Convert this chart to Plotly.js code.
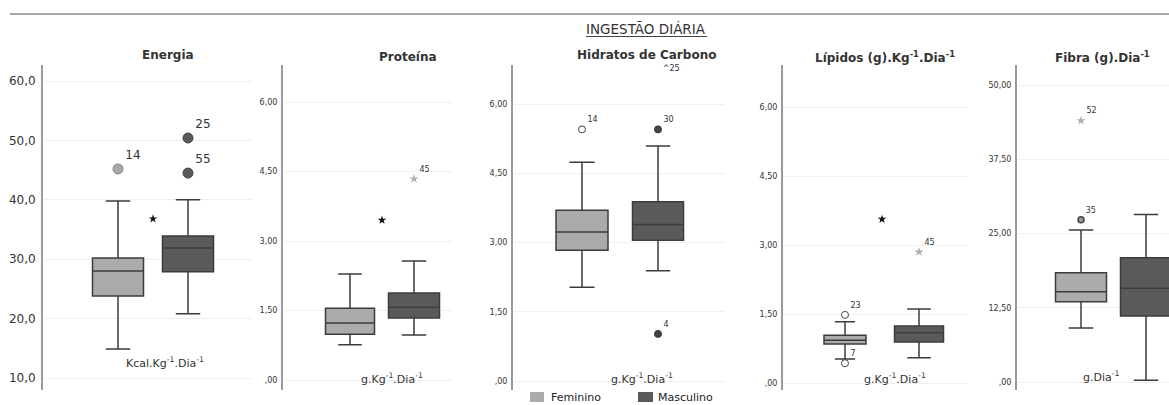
<!DOCTYPE html>
<html>
<head>
<meta charset="utf-8">
<script src="https://cdn.plot.ly/plotly-3.0.1.min.js"></script>
<style>html,body{margin:0;padding:0;background:#fff;}#chart{width:1169px;height:405px;}</style>
</head>
<body>
<div id="chart"></div>
<script>
// ---------------- DATA ----------------
const panelTitles = ['Energia', 'Proteína', 'Hidratos de Carbono', 'Lípidos (g).Kg<sup>-1</sup>.Dia<sup>-1</sup>', 'Fibra (g).Dia<sup>-1</sup>'];
const unitLabels = ['Kcal.Kg<sup>-1</sup>.Dia<sup>-1</sup>', 'g.Kg<sup>-1</sup>.Dia<sup>-1</sup>', 'g.Kg<sup>-1</sup>.Dia<sup>-1</sup>', 'g.Kg<sup>-1</sup>.Dia<sup>-1</sup>', 'g.Dia<sup>-1</sup>'];
const sexes = ['Feminino', 'Masculino'];

const femQ1  = [23.8, 0.99, 2.83, 0.85, 13.5];
const femMed = [28.0, 1.23, 3.23, 0.93, 15.2];
const femQ3  = [30.2, 1.55, 3.70, 1.04, 18.4];
const femLo  = [14.9, 0.76, 2.03, 0.52, 9.1];
const femHi  = [39.8, 2.29, 4.74, 1.33, 25.6];

const mascQ1  = [27.9, 1.34, 3.05, 0.89, 11.1];
const mascMed = [31.9, 1.57, 3.39, 1.09, 15.8];
const mascQ3  = [33.9, 1.88, 3.88, 1.24, 20.9];
const mascLo  = [20.8, 0.97, 2.39, 0.55, 0.3];
const mascHi  = [40.0, 2.57, 5.09, 1.61, 28.2];

// outliers: panel index, sex, value, case label, kind (o = outlier, * = extreme, ^ = off scale)
const outPanel = [0, 0, 0, 1, 2, 2, 2, 2, 3, 3, 3, 4, 4];
const outSex   = ['Feminino', 'Masculino', 'Masculino', 'Masculino', 'Feminino', 'Masculino', 'Masculino', 'Masculino', 'Feminino', 'Feminino', 'Masculino', 'Feminino', 'Feminino'];
const outValue = [45.2, 50.4, 44.5, 4.34, 5.45, 5.45, 1.02, 6.76, 1.48, 0.43, 2.85, 27.3, 44.0];
const outLabel = ['14', '25', '55', '45', '14', '30', '4', '25', '23', '7', '45', '35', '52'];
const outKind  = ['o', 'o', 'o', '*', 'o', 'o', 'o', '^', 'o', 'o', '*', 'o', '*'];

// significance marker (*) between groups
const sigValue = [36.8, 3.45, null, 3.56, null];

const tickVals = [
  [10, 20, 30, 40, 50, 60],
  [0, 1.5, 3, 4.5, 6],
  [0, 1.5, 3, 4.5, 6],
  [0, 1.5, 3, 4.5, 6],
  [0, 12.5, 25, 37.5, 50]
];
const tickText = [
  ['10,0', '20,0', '30,0', '40,0', '50,0', '60,0'],
  [',00', '1,50', '3,00', '4,50', '6,00'],
  [',00', '1,50', '3,00', '4,50', '6,00'],
  [',00', '1,50', '3,00', '4,50', '6,00'],
  [',00', '12,50', '25,00', '37,50', '50,00']
];

// ---------------- LAYOUT GEOMETRY (pixels) ----------------
const W = 1169, H = 405;
const xDomPx = [[43, 252], [283, 452], [513, 725], [783, 968], [1017, 1169]];
const centersPx = [[118, 188], [350, 414], [582, 658], [845, 919], [1081, 1146]];
const boxWPx = [[51, 51], [49, 51], [52, 51], [42, 49], [51, 51]];
const yDomPx = [65, 390];
const tickPx = [[60, 81, 10, 378], [6, 102, 0, 380], [6, 104, 0, 381], [6, 107, 0, 383], [50, 85, 0, 382]];
const titlePx = [[168, 55], [408, 57], [646, 55], [885, 57], [1102, 57]];
const unitPx = [[165, 362], [392, 378], [642, 378], [895, 378], [1101, 376]];

const FEM = '#ababab', MASC = '#5a5a5a';
const FONT = 'DejaVu Sans, Verdana, sans-serif';

const traces = [];
const layout = {
  width: W, height: H,
  margin: {l: 0, r: 0, t: 0, b: 0},
  paper_bgcolor: '#ffffff', plot_bgcolor: '#ffffff',
  showlegend: false,
  font: {family: FONT, color: '#333'},
  shapes: [], annotations: []
};

for (let p = 0; p < 5; p++) {
  const ax = p === 0 ? '' : String(p + 1);
  const unit = centersPx[p][1] - centersPx[p][0];
  const xr = [(xDomPx[p][0] - centersPx[p][0]) / unit, 1 + (xDomPx[p][1] - centersPx[p][1]) / unit];
  const [va, pa, vb, pb] = tickPx[p];
  const vpp = (va - vb) / (pb - pa); // value per px
  const yr = [vb - (yDomPx[1] - pb) * vpp, va + (pa - yDomPx[0]) * vpp];

  layout['xaxis' + ax] = {
    domain: [xDomPx[p][0] / W, xDomPx[p][1] / W], range: xr, anchor: 'y' + ax,
    visible: false, fixedrange: true
  };
  layout['yaxis' + ax] = {
    domain: [1 - yDomPx[1] / H, 1 - yDomPx[0] / H], range: yr, anchor: 'x' + ax,
    showline: true, linecolor: '#9a9a9a', linewidth: 2, ticks: '',
    tickvals: tickVals[p], ticktext: tickText[p],
    tickfont: {size: p === 0 ? 12 : 8, color: '#333', family: FONT},
    ticklabelstandoff: p === 0 ? 3 : 2,
    showgrid: true, gridcolor: '#f0f0f0', gridwidth: 1, zeroline: false, fixedrange: true
  };

  const stats = [
    [femQ1[p], femMed[p], femQ3[p], femLo[p], femHi[p], FEM],
    [mascQ1[p], mascMed[p], mascQ3[p], mascLo[p], mascHi[p], MASC]
  ];
  stats.forEach((s, i) => {
    traces.push({
      type: 'box', name: sexes[i], xaxis: 'x' + ax, yaxis: 'y' + ax,
      x: [i], q1: [s[0]], median: [s[1]], q3: [s[2]], lowerfence: [s[3]], upperfence: [s[4]],
      width: boxWPx[p][i] / unit, whiskerwidth: 0.48,
      fillcolor: s[5], line: {color: '#3c3c3c', width: 1.5},
      boxpoints: false, hoverinfo: 'skip'
    });
  });

  // outliers
  for (let k = 0; k < outValue.length; k++) {
    if (outPanel[k] !== p) continue;
    const si = sexes.indexOf(outSex[k]);
    const kind = outKind[k];
    let marker;
    if (kind === '*') {
      marker = {symbol: 'star', size: 7, color: '#b0b0b0', line: {width: 0}};
    } else if (kind === '^') {
      marker = {size: 0, opacity: 0};
    } else if (p === 0) {
      marker = si === 0 ? {symbol: 'circle', size: 10, color: '#a8a8a8', line: {color: '#888', width: 1}}
                        : {symbol: 'circle', size: 10, color: '#5a5a5a', line: {color: '#444', width: 1}};
    } else if (p === 4) {
      marker = {symbol: 'circle', size: 6, color: '#9a9a9a', line: {color: '#444', width: 1.5}};
    } else {
      marker = si === 0 ? {symbol: 'circle', size: 7, color: '#ffffff', line: {color: '#444', width: 1}}
                        : {symbol: 'circle', size: 7, color: '#444', line: {color: '#333', width: 1}};
    }
    traces.push({
      type: 'scatter', mode: 'markers+text', xaxis: 'x' + ax, yaxis: 'y' + ax,
      x: [si], y: [outValue[k]], text: [kind === '^' ? '^' + outLabel[k] : outLabel[k]],
      textposition: kind === '^' ? 'middle right' : 'top right',
      textfont: {size: p === 0 ? 12 : 8, color: '#333', family: FONT},
      marker: marker, cliponaxis: false, hoverinfo: 'skip'
    });
  }

  if (sigValue[p] !== null) {
    traces.push({
      type: 'scatter', mode: 'markers', xaxis: 'x' + ax, yaxis: 'y' + ax,
      x: [0.5], y: [sigValue[p]],
      marker: {symbol: 'star', size: 6.5, color: '#111', line: {width: 0}},
      hoverinfo: 'skip'
    });
  }

  layout.annotations.push({
    xref: 'paper', yref: 'paper', x: titlePx[p][0] / W, y: 1 - titlePx[p][1] / H,
    xanchor: 'center', yanchor: 'middle', showarrow: false,
    text: '<b>' + panelTitles[p] + '</b>', font: {size: 12, color: '#333', family: FONT}
  });
  layout.annotations.push({
    xref: 'paper', yref: 'paper', x: unitPx[p][0] / W, y: 1 - unitPx[p][1] / H,
    xanchor: 'center', yanchor: 'middle', showarrow: false,
    text: unitLabels[p], font: {size: 11, color: '#333', family: FONT}
  });
}

// main title + underline + top rule
layout.annotations.push({
  xref: 'paper', yref: 'paper', x: 646 / W, y: 1 - 29 / H, xanchor: 'center', yanchor: 'middle',
  showarrow: false, text: 'INGESTÃO DIÁRIA', font: {size: 13.5, color: '#333', family: FONT}
});
layout.shapes.push({type: 'line', xref: 'paper', yref: 'paper', x0: 586 / W, x1: 707 / W, y0: 1 - 36.5 / H, y1: 1 - 36.5 / H, line: {color: '#444', width: 1}});
layout.shapes.push({type: 'line', xref: 'paper', yref: 'paper', x0: 10 / W, x1: 1, y0: 1 - 14 / H, y1: 1 - 14 / H, line: {color: '#888', width: 1.5}});

// legend (swatches + labels)
const legX = [[530, 544, 549], [638, 653, 656]];
[FEM, MASC].forEach((c, i) => {
  layout.shapes.push({type: 'rect', xref: 'paper', yref: 'paper', x0: legX[i][0] / W, x1: legX[i][1] / W, y0: 1 - 402 / H, y1: 1 - 392 / H, fillcolor: c, line: {width: 0}});
  layout.annotations.push({
    xref: 'paper', yref: 'paper', x: legX[i][2] / W, y: 1 - 397 / H, xanchor: 'left', yanchor: 'middle',
    showarrow: false, text: sexes[i], font: {size: 11, color: '#222', family: FONT}
  });
});

Plotly.newPlot('chart', traces, layout, {staticPlot: true, displayModeBar: false});
</script>
</body>
</html>
